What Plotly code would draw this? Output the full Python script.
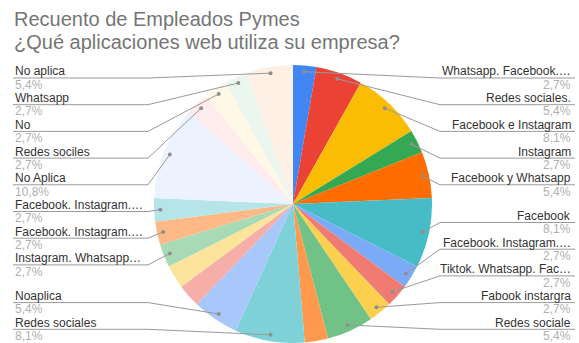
import math
import plotly.graph_objects as go

# ---------------- data ----------------
slice_names = [
    "Whatsapp. Facebook.…", "Redes sociales.", "Facebook e Instagram", "Instagram",
    "Facebook y Whatsapp", "Facebook", "Facebook. Instagram.…", "Tiktok. Whatsapp. Fac…",
    "Fabook instargra", "Redes sociale", "", "Redes sociales", "Noaplica", "", "",
    "Instagram. Whatsapp…", "Facebook. Instagram.…", "Facebook. Instagram.…",
    "No Aplica", "Redes sociles", "No", "Whatsapp", "No aplica",
]
slice_counts = [1, 2, 3, 1, 2, 3, 1, 1, 1, 2, 1, 3, 2, 1, 1, 1, 1, 1, 4, 1, 1, 1, 2]
title_lines = ["Recuento de Empleados Pymes", "¿Qué aplicaciones web utiliza su empresa?"]

# ---------------- styles / layout ----------------
slice_colors = [
    "#4285f4", "#ea4335", "#fbbc04", "#34a853", "#ff6d01", "#46bdc6", "#7baaf7",
    "#f07b72", "#fcd04f", "#71c287", "#ff994d", "#7ed1d7", "#a8c7fa", "#f6aea9",
    "#fde49b", "#a8dab5", "#ffb986", "#b5e5e8", "#ecf3fe", "#fdeceb", "#fff8e6",
    "#ebf6ee", "#fff0e6",
]
W, H = 579, 343
FONT = "Arial, Liberation Sans, sans-serif"
# label rows: (slice index, underline y in px)
right_rows = [(0, 78), (1, 104.7), (2, 131.4), (3, 158.1), (4, 184.8),
              (5, 222.5), (6, 249.2), (7, 275.9), (8, 302.6), (9, 329.3)]
left_rows = [(22, 78), (21, 104.7), (20, 131.4), (19, 158.1), (18, 184.8),
             (17, 211.5), (16, 238.2), (15, 264.9), (12, 302.6), (11, 329.3)]
RIGHT_INNER, RIGHT_OUTER = 440, 575
LEFT_INNER, LEFT_OUTER = 148, 13
DOT_R_FRAC = 0.955
NAME_DY, PCT_DY = -6.6, 6.7
TITLE_Y = [19.4, 41.9]

dom_x = [(293 - 139) / W, (293 + 139) / W]
dom_y = [0.0, 278 / H]

total = sum(slice_counts)

fig = go.Figure(go.Pie(
    labels=[str(i) for i in range(len(slice_counts))],
    values=slice_counts,
    customdata=slice_names,
    hovertemplate="%{customdata}<br>%{value} (%{percent})<extra></extra>",
    sort=False, direction="clockwise", rotation=0,
    textinfo="none", showlegend=False,
    marker=dict(colors=slice_colors, line=dict(width=0)),
    domain=dict(x=dom_x, y=dom_y),
))

cx = (dom_x[0] + dom_x[1]) / 2 * W
cy = H - (dom_y[0] + dom_y[1]) / 2 * H
R = min((dom_x[1] - dom_x[0]) * W, (dom_y[1] - dom_y[0]) * H) / 2

def px(x):
    return x / W

def py(y):
    return 1 - y / H

cum = [0]
for v in slice_counts:
    cum.append(cum[-1] + v)

def dot_pos(i):
    th = 2 * math.pi * (cum[i] + slice_counts[i] / 2) / total
    r = R * DOT_R_FRAC
    return cx + r * math.sin(th), cy - r * math.cos(th)

def pct(i):
    return f"{100 * slice_counts[i] / total:.1f}".replace(".", ",") + "%"

shapes, annotations = [], []
LINE_COL = "#9a9a9a"
for rows, inner, outer, anchor in [(right_rows, RIGHT_INNER, RIGHT_OUTER, "right"),
                                   (left_rows, LEFT_INNER, LEFT_OUTER, "left")]:
    for i, uy in rows:
        dx, dy = dot_pos(i)
        shapes.append(dict(type="path", xref="paper", yref="paper", layer="above",
                           path=f"M {px(dx)} {py(dy)} L {px(inner)} {py(uy)} L {px(outer)} {py(uy)}",
                           line=dict(color=LINE_COL, width=1)))
        shapes.append(dict(type="circle", xref="paper", yref="paper", layer="above",
                           x0=px(dx - 2), x1=px(dx + 2), y0=py(dy + 2), y1=py(dy - 2),
                           fillcolor="#8f8f8f", line=dict(width=0)))
        tx = outer - 2 if anchor == "right" else outer
        annotations.append(dict(x=px(tx), y=py(uy + NAME_DY), xref="paper", yref="paper",
                                text=slice_names[i], showarrow=False, xanchor=anchor,
                                yanchor="middle", font=dict(family=FONT, size=12, color="#333333")))
        annotations.append(dict(x=px(tx), y=py(uy + PCT_DY), xref="paper", yref="paper",
                                text=pct(i), showarrow=False, xanchor=anchor,
                                yanchor="middle", font=dict(family=FONT, size=12, color="#b0b0b0")))

for t, yc in zip(title_lines, TITLE_Y):
    annotations.append(dict(x=px(12), y=py(yc), xref="paper", yref="paper", text=t,
                            showarrow=False, xanchor="left", yanchor="middle",
                            font=dict(family=FONT, size=20, color="#757575")))

fig.update_layout(width=W, height=H, margin=dict(l=0, r=0, t=0, b=0),
                  paper_bgcolor="white", plot_bgcolor="white",
                  shapes=shapes, annotations=annotations)

fig.write_html("out.html")
